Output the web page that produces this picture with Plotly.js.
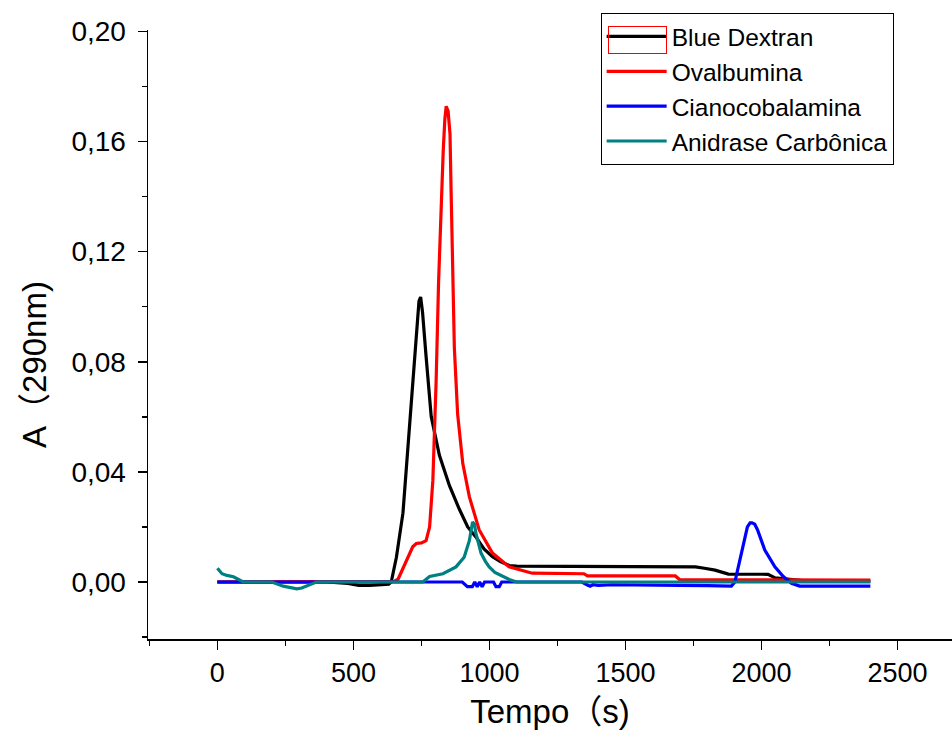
<!DOCTYPE html>
<html>
<head>
<meta charset="utf-8">
<script src="https://cdn.plot.ly/plotly-3.0.1.min.js"></script>
<style>html,body{margin:0;padding:0;background:#fff;}#chart{width:952px;height:734px;}</style>
</head>
<body>
<div id="chart"></div>
<script>
// Blue Dextran (black)
const dextranX = [0, 100, 200, 300, 400, 480, 520, 560, 600, 630, 639, 658, 682, 700, 718, 731, 741, 747, 754, 767, 786, 816, 853, 889, 920, 950, 980, 1011, 1040, 1073, 1100, 1300, 1500, 1700, 1757, 1790, 1829, 1878, 1950, 2024, 2050, 2097, 2150, 2250, 2400];
const dextranY = [0, 0, 0, 0, 0, -0.0005, -0.0012, -0.0012, -0.001, -0.0008, 0.0, 0.009, 0.025, 0.049, 0.073, 0.091, 0.102, 0.1035, 0.098, 0.082, 0.06, 0.046, 0.035, 0.0265, 0.02, 0.0164, 0.012, 0.0092, 0.0074, 0.006, 0.0058, 0.0057, 0.0057, 0.0056, 0.0055, 0.005, 0.0043, 0.0029, 0.0029, 0.0028, 0.0015, 0.001, 0.0005, 0.0003, 0.0002];

// Ovalbumina (red)
const ovalX = [0, 300, 600, 650, 664, 680, 694, 718, 731, 750, 767, 780, 792, 804, 813, 818, 824, 830, 836, 841, 848, 855, 859, 865, 871, 883, 902, 926, 962, 1011, 1072, 1157, 1255, 1347, 1360, 1500, 1683, 1700, 2000, 2400];
const ovalY = [0, 0, 0, 0.0002, 0.001, 0.0045, 0.008, 0.0128, 0.014, 0.0142, 0.015, 0.02, 0.037, 0.073, 0.109, 0.125, 0.140, 0.1565, 0.168, 0.1728, 0.171, 0.1627, 0.142, 0.115, 0.085, 0.061, 0.043, 0.031, 0.019, 0.0105, 0.0055, 0.0032, 0.0031, 0.003, 0.0022, 0.0022, 0.0022, 0.0008, 0.0007, 0.0007];

// Cianocobalamina (blue)
const cianoX = [0, 500, 900, 919, 928, 937, 946, 955, 964, 973, 982, 1015, 1024, 1036, 1045, 1100, 1340, 1358, 1370, 1380, 1400, 1450, 1500, 1600, 1700, 1800, 1889, 1902, 1914, 1932, 1948, 1958, 1965, 1975, 1985, 2012, 2049, 2080, 2097, 2110, 2140, 2400];
const cianoY = [0, 0, 0, -0.0017, -0.0017, -0.0017, 0, -0.0017, 0, -0.0017, 0, 0, -0.0017, -0.0017, 0, 0, 0, -0.001, -0.0015, -0.001, -0.0012, -0.001, -0.001, -0.0012, -0.0012, -0.0013, -0.0015, 0, 0.0055, 0.014, 0.02, 0.0215, 0.0215, 0.021, 0.019, 0.0116, 0.0055, 0.002, 0.0007, -0.0005, -0.0015, -0.0015];

// Anidrase Carbônica (teal)
const anidX = [0, 17, 35, 59, 95, 150, 200, 242, 270, 292, 310, 328, 364, 400, 500, 600, 700, 755, 780, 829, 877, 907, 926, 938, 945, 950, 960, 969, 985, 999, 1020, 1048, 1075, 1100, 1300, 1600, 2000, 2400];
const anidY = [0.005, 0.003, 0.0024, 0.0019, 0, 0, 0, -0.0015, -0.002, -0.0025, -0.0022, -0.0015, 0, 0, 0, 0, 0, 0, 0.002, 0.003, 0.0055, 0.009, 0.015, 0.0218, 0.021, 0.0177, 0.014, 0.0105, 0.0075, 0.0055, 0.0035, 0.002, 0.0008, 0, 0, 0, 0, 0];

const seriesNames = ['Blue Dextran', 'Ovalbumina', 'Cianocobalamina', 'Anidrase Carbônica'];
const seriesColors = ['#000000', '#ff0000', '#0000ff', '#008080'];
const xs = [dextranX, ovalX, cianoX, anidX];
const ys = [dextranY, ovalY, cianoY, anidY];

const traces = xs.map((x, i) => ({
  x: x, y: ys[i], type: 'scatter', mode: 'lines', name: seriesNames[i],
  line: {color: seriesColors[i], width: 3.2}
}));

const font = 'Liberation Sans, Arial, Noto Sans CJK SC, sans-serif';

const layout = {
  width: 952, height: 734,
  margin: {l: 148, r: 0, t: 30, b: 95},
  paper_bgcolor: '#ffffff', plot_bgcolor: '#ffffff',
  separators: ',.',
  font: {family: font, color: '#000000'},
  showlegend: true,
  legend: {
    x: 0.563, y: 1.0279, xanchor: 'left', yanchor: 'top',
    bordercolor: '#000000', borderwidth: 1, bgcolor: '#ffffff',
    font: {family: font, size: 24.5, color: '#000000'},
    itemwidth: 60, tracegroupgap: 0
  },
  xaxis: {
    range: [-255, 2700], showgrid: false, zeroline: false,
    showline: true, linecolor: '#000000', linewidth: 1.5,
    ticks: 'outside', ticklen: 9, tickwidth: 1.5, tickcolor: '#000000',
    tick0: 0, dtick: 500,
    minor: {ticks: 'outside', dtick: 250, tick0: 0, ticklen: 5, tickwidth: 1.5, tickcolor: '#000000'},
    tickfont: {family: font, size: 27, color: '#000000'},
    title: {text: 'Tempo（s)', font: {family: font, size: 33, color: '#000000'}, standoff: 13}
  },
  yaxis: {
    range: [-0.0207, 0.2005], showgrid: false, zeroline: false,
    showline: true, linecolor: '#000000', linewidth: 1.5,
    ticks: 'outside', ticklen: 9, tickwidth: 1.5, tickcolor: '#000000',
    tick0: 0, dtick: 0.04, tickformat: '.2f',
    minor: {ticks: 'outside', dtick: 0.02, tick0: 0, ticklen: 5, tickwidth: 1.5, tickcolor: '#000000'},
    tickfont: {family: font, size: 28, color: '#000000'},
    ticklabelstandoff: 6
  },
  annotations: [{
    text: 'A（290nm)', textangle: -90, showarrow: false,
    xref: 'paper', yref: 'paper', x: -0.1405, y: 0.45,
    xanchor: 'center', yanchor: 'middle',
    font: {family: font, size: 33, color: '#000000'}
  }, {
    text: ' ', showarrow: false,
    xref: 'paper', yref: 'paper', x: 0.6088, y: 0.9836,
    xanchor: 'center', yanchor: 'middle',
    width: 57, height: 26, borderpad: 0,
    bordercolor: '#ff0000', borderwidth: 1, bgcolor: 'rgba(0,0,0,0)',
    font: {size: 10}
  }]
};

Plotly.newPlot('chart', traces, layout, {displayModeBar: false, staticPlot: true});
</script>
</body>
</html>
